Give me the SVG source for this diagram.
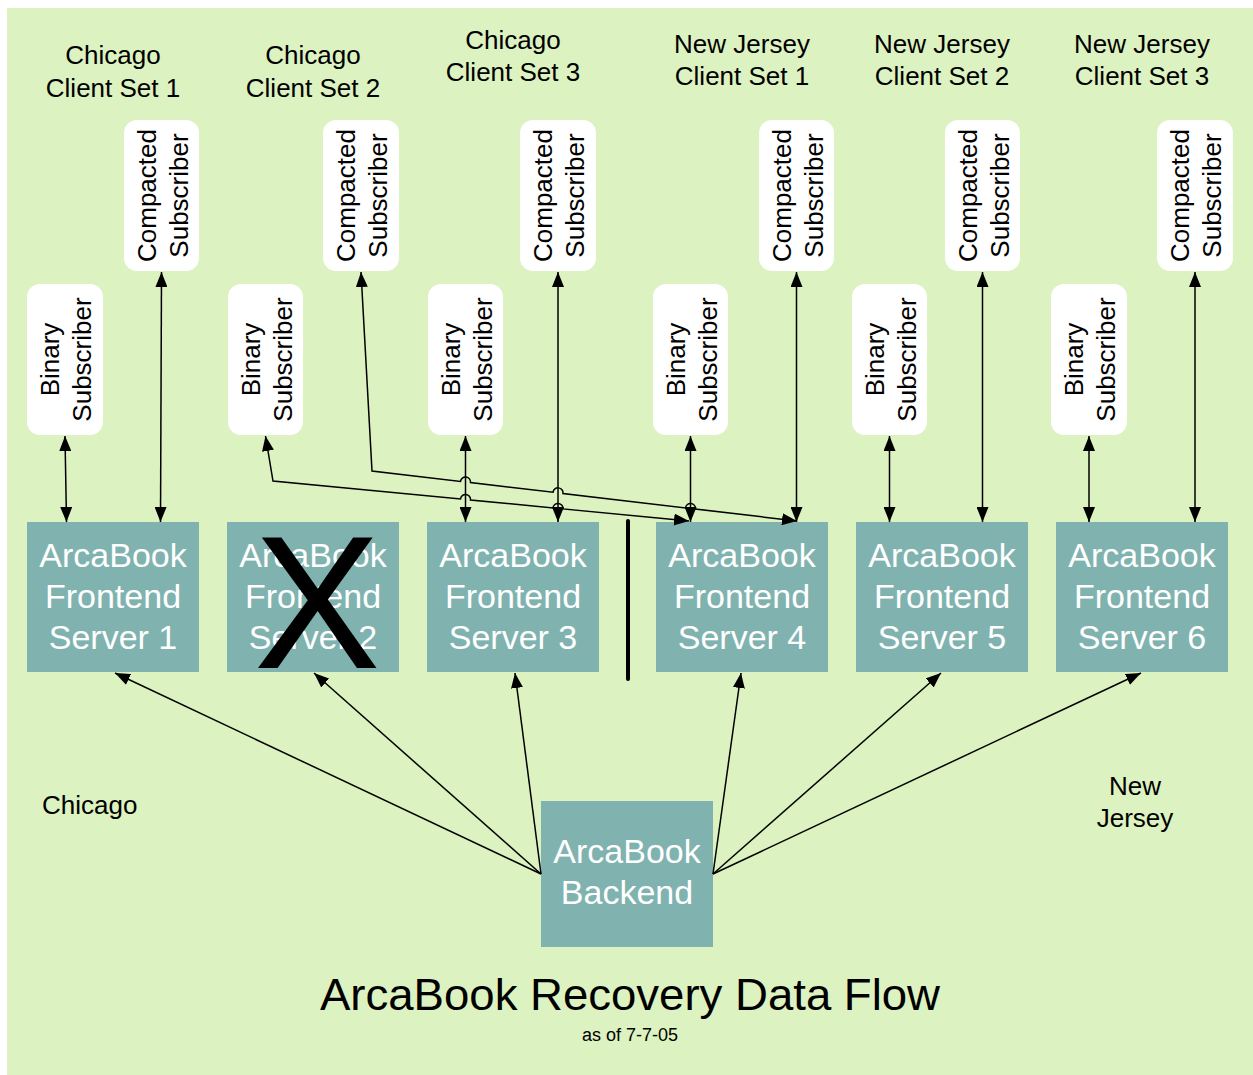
<svg xmlns="http://www.w3.org/2000/svg" width="1253" height="1075" viewBox="0 0 1253 1075">
<style>
text{font-family:"Liberation Sans",Arial,sans-serif;}
.lbl{font-size:26px;fill:#000;text-anchor:middle;}
.srv{fill:#80B3AF;}
.srvt{font-size:34px;fill:#fff;text-anchor:middle;}
.sub{fill:#fff;}
.subt{font-size:26px;fill:#000;text-anchor:middle;}
.ln{fill:none;stroke:#000;stroke-width:1.5;}
.dbl{marker-start:url(#ah);marker-end:url(#ah);}
.one{marker-end:url(#ah);}
</style>
<defs>
<marker id="ah" markerUnits="userSpaceOnUse" markerWidth="15" markerHeight="12" viewBox="0 0 15 12" refX="15" refY="6" orient="auto-start-reverse">
<path d="M0,0 L15,6 L0,12 z" fill="#000"/>
</marker>
</defs>
<rect x="7" y="8" width="1246" height="1067" fill="#DCF2C0"/>

<g id="labels">
<text class="lbl" x="113" y="64">Chicago</text><text class="lbl" x="113" y="97">Client Set 1</text>
<text class="lbl" x="313" y="64">Chicago</text><text class="lbl" x="313" y="97">Client Set 2</text>
<text class="lbl" x="513" y="49">Chicago</text><text class="lbl" x="513" y="81">Client Set 3</text>
<text class="lbl" x="742" y="53">New Jersey</text><text class="lbl" x="742" y="85">Client Set 1</text>
<text class="lbl" x="942" y="53">New Jersey</text><text class="lbl" x="942" y="85">Client Set 2</text>
<text class="lbl" x="1142" y="53">New Jersey</text><text class="lbl" x="1142" y="85">Client Set 3</text>
<text x="42" y="814" style="font-size:26px">Chicago</text>
<text class="lbl" x="1135" y="795">New</text><text class="lbl" x="1135" y="827">Jersey</text>
</g>

<g id="compacted-subscribers">
<g id="cs1"><rect class="sub" x="124" y="120" width="75" height="151" rx="13"/><text class="subt" transform="translate(161.5,195.5) rotate(-90)"><tspan x="0" y="-6">Compacted</tspan><tspan x="0" y="26">Subscriber</tspan></text></g>
<g id="cs2"><rect class="sub" x="323" y="120" width="76" height="151" rx="13"/><text class="subt" transform="translate(361,195.5) rotate(-90)"><tspan x="0" y="-6">Compacted</tspan><tspan x="0" y="26">Subscriber</tspan></text></g>
<g id="cs3"><rect class="sub" x="520" y="120" width="76" height="151" rx="13"/><text class="subt" transform="translate(558,195.5) rotate(-90)"><tspan x="0" y="-6">Compacted</tspan><tspan x="0" y="26">Subscriber</tspan></text></g>
<g id="cs4"><rect class="sub" x="759" y="120" width="75" height="151" rx="13"/><text class="subt" transform="translate(796.5,195.5) rotate(-90)"><tspan x="0" y="-6">Compacted</tspan><tspan x="0" y="26">Subscriber</tspan></text></g>
<g id="cs5"><rect class="sub" x="945" y="120" width="75" height="151" rx="13"/><text class="subt" transform="translate(982.5,195.5) rotate(-90)"><tspan x="0" y="-6">Compacted</tspan><tspan x="0" y="26">Subscriber</tspan></text></g>
<g id="cs6"><rect class="sub" x="1157" y="120" width="76" height="151" rx="13"/><text class="subt" transform="translate(1195,195.5) rotate(-90)"><tspan x="0" y="-6">Compacted</tspan><tspan x="0" y="26">Subscriber</tspan></text></g>
</g>

<g id="binary-subscribers">
<g id="bs1"><rect class="sub" x="27" y="284" width="76" height="151" rx="13"/><text class="subt" transform="translate(65,359.5) rotate(-90)"><tspan x="0" y="-6">Binary</tspan><tspan x="0" y="26">Subscriber</tspan></text></g>
<g id="bs2"><rect class="sub" x="228" y="284" width="75" height="151" rx="13"/><text class="subt" transform="translate(265.5,359.5) rotate(-90)"><tspan x="0" y="-6">Binary</tspan><tspan x="0" y="26">Subscriber</tspan></text></g>
<g id="bs3"><rect class="sub" x="428" y="284" width="75" height="151" rx="13"/><text class="subt" transform="translate(465.5,359.5) rotate(-90)"><tspan x="0" y="-6">Binary</tspan><tspan x="0" y="26">Subscriber</tspan></text></g>
<g id="bs4"><rect class="sub" x="653" y="284" width="75" height="151" rx="13"/><text class="subt" transform="translate(690.5,359.5) rotate(-90)"><tspan x="0" y="-6">Binary</tspan><tspan x="0" y="26">Subscriber</tspan></text></g>
<g id="bs5"><rect class="sub" x="852" y="284" width="75" height="151" rx="13"/><text class="subt" transform="translate(889.5,359.5) rotate(-90)"><tspan x="0" y="-6">Binary</tspan><tspan x="0" y="26">Subscriber</tspan></text></g>
<g id="bs6"><rect class="sub" x="1051" y="284" width="76" height="151" rx="13"/><text class="subt" transform="translate(1089,359.5) rotate(-90)"><tspan x="0" y="-6">Binary</tspan><tspan x="0" y="26">Subscriber</tspan></text></g>
</g>

<g id="frontend-servers">
<g id="fs1"><rect class="srv" x="27" y="522" width="172" height="150"/><text class="srvt" x="113" y="567">ArcaBook</text><text class="srvt" x="113" y="608">Frontend</text><text class="srvt" x="113" y="649">Server 1</text></g>
<g id="fs2"><rect class="srv" x="227" y="522" width="172" height="150"/><text class="srvt" x="313" y="567">ArcaBook</text><text class="srvt" x="313" y="608">Frontend</text><text class="srvt" x="313" y="649">Server 2</text><text x="317" y="668" style="font-size:190px;fill:#000;text-anchor:middle">X</text></g>
<g id="fs3"><rect class="srv" x="427" y="522" width="172" height="150"/><text class="srvt" x="513" y="567">ArcaBook</text><text class="srvt" x="513" y="608">Frontend</text><text class="srvt" x="513" y="649">Server 3</text></g>
<g id="fs4"><rect class="srv" x="656" y="522" width="172" height="150"/><text class="srvt" x="742" y="567">ArcaBook</text><text class="srvt" x="742" y="608">Frontend</text><text class="srvt" x="742" y="649">Server 4</text></g>
<g id="fs5"><rect class="srv" x="856" y="522" width="172" height="150"/><text class="srvt" x="942" y="567">ArcaBook</text><text class="srvt" x="942" y="608">Frontend</text><text class="srvt" x="942" y="649">Server 5</text></g>
<g id="fs6"><rect class="srv" x="1056" y="522" width="172" height="150"/><text class="srvt" x="1142" y="567">ArcaBook</text><text class="srvt" x="1142" y="608">Frontend</text><text class="srvt" x="1142" y="649">Server 6</text></g>
</g>

<g id="backend"><rect class="srv" x="541" y="801" width="172" height="146"/><text class="srvt" x="627" y="863">ArcaBook</text><text class="srvt" x="627" y="904">Backend</text></g>

<line id="divider" x1="628" y1="521" x2="628" y2="679" stroke="#000" stroke-width="4" stroke-linecap="round"/>

<g id="connectors">
<path class="ln dbl" d="M65,436 L66.5,522"/>
<path class="ln dbl" d="M161.5,272 L160.5,522"/>
<path class="ln dbl" d="M465.5,436 L465.5,522"/>
<path class="ln dbl" d="M558,272 L558,522"/>
<path class="ln dbl" d="M690.5,436 L690.5,522"/>
<path class="ln dbl" d="M796.5,272 L796.5,522"/>
<path class="ln dbl" d="M889.5,436 L889.5,522"/>
<path class="ln dbl" d="M982.5,272 L982.5,522"/>
<path class="ln dbl" d="M1089,436 L1089,522"/>
<path class="ln dbl" d="M1195,272 L1195,522"/>
<path class="ln dbl" d="M361,272 L372,471 L460.5,481.41 A5,5 0 0 1 470.5,482.59 L553,492.29 A5,5 0 0 1 563,493.47 L685.5,507.88 A5,5 0 0 1 695.5,509.06 L797,521"/>
<path class="ln dbl" d="M265.5,436 L273,481 L460.5,499.03 A5,5 0 0 1 470.5,499.99 L553,507.92 A5,5 0 0 1 563,508.88 L689,521"/>
<path class="ln one" d="M541,874 L115,673"/>
<path class="ln one" d="M541,874 L314,673"/>
<path class="ln one" d="M541,874 L515,673"/>
<path class="ln one" d="M713,874 L741,673"/>
<path class="ln one" d="M713,874 L941,673"/>
<path class="ln one" d="M713,874 L1141,673"/>
</g>

<g id="title">
<text x="630" y="1010" style="font-size:44px;text-anchor:middle" textLength="620" lengthAdjust="spacingAndGlyphs">ArcaBook Recovery Data Flow</text>
<text x="630" y="1041" style="font-size:18px;text-anchor:middle">as of 7-7-05</text>
</g>
</svg>
